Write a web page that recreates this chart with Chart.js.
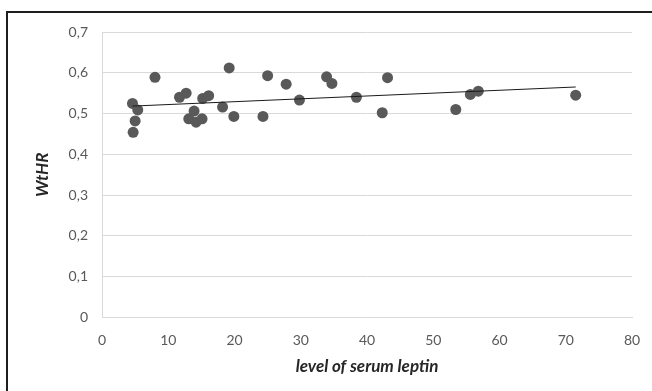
<!DOCTYPE html>
<html>
<head>
<meta charset="utf-8">
<script src="https://cdn.jsdelivr.net/npm/chart.js@4"></script>
<style>
  html, body { margin: 0; padding: 0; background: #fff; overflow: hidden; }
  #wrap { position: relative; width: 652px; height: 391px; }
  #frame { position: absolute; left: 6px; top: 11px; width: 700px; height: 500px; border: 2px solid #1e1e1e; box-sizing: border-box; pointer-events: none; }
</style>
</head>
<body>
<div id="wrap">
  <canvas id="chart" width="652" height="391"></canvas>
  <div id="frame"></div>
</div>
<script>
// leptin level (x) vs WtHR (y)
const leptin = [4.6, 4.7, 5.0, 5.4, 8.0, 11.7, 12.7, 13.1, 13.9, 14.2, 15.1, 15.2, 16.1, 18.2, 19.2,
  19.9, 24.3, 25.0, 27.8, 29.8, 33.9, 34.7, 38.4, 42.3, 43.1, 53.4, 55.6, 56.8, 71.5];
const wthr = [0.525, 0.454, 0.482, 0.509, 0.589, 0.540, 0.550, 0.487, 0.506, 0.479, 0.487, 0.537, 0.544, 0.516, 0.612,
  0.493, 0.493, 0.593, 0.572, 0.533, 0.590, 0.574, 0.540, 0.502, 0.588, 0.510, 0.547, 0.555, 0.545];
const xTicks = [0, 10, 20, 30, 40, 50, 60, 70, 80];
const yTicks = [0, 0.1, 0.2, 0.3, 0.4, 0.5, 0.6, 0.7];

// linear trendline (least squares) like the excel one
function trend(xs, ys) {
  const n = xs.length;
  const mx = xs.reduce((a, b) => a + b, 0) / n;
  const my = ys.reduce((a, b) => a + b, 0) / n;
  let sxy = 0, sxx = 0;
  for (let i = 0; i < n; i++) {
    sxy += (xs[i] - mx) * (ys[i] - my);
    sxx += (xs[i] - mx) * (xs[i] - mx);
  }
  const b = sxy / sxx;
  const a = my - b * mx;
  const x0 = Math.min(...xs), x1 = Math.max(...xs);
  return [{ x: x0, y: a + b * x0 }, { x: x1, y: a + b * x1 }];
}

const points = leptin.map((x, i) => ({ x: x, y: wthr[i] }));
const tickFont = { family: 'Lato, "Open Sans", sans-serif', size: 14 };
const titleFont = { family: 'Lato, "Open Sans", sans-serif', size: 17, weight: 'bold', style: 'italic' };

new Chart(document.getElementById('chart'), {
  type: 'scatter',
  data: {
    datasets: [{
      label: 'WtHR',
      data: points,
      backgroundColor: '#595959',
      borderColor: '#595959',
      pointRadius: 5.5,
      pointHoverRadius: 5.5,
      borderWidth: 0,
      order: 2
    }, {
      type: 'line',
      label: 'trend',
      data: trend(leptin, wthr),
      borderColor: '#1a1a1a',
      borderWidth: 1,
      pointRadius: 0,
      fill: false,
      order: 1
    }]
  },
  options: {
    responsive: false,
    animation: false,
    layout: { padding: { left: 32, top: 32, right: 20, bottom: 14 } },
    plugins: { legend: { display: false }, tooltip: { enabled: false } },
    scales: {
      x: {
        type: 'linear',
        min: 0,
        max: 80,
        afterBuildTicks: (axis) => { axis.ticks = xTicks.map(v => ({ value: v })); },
        afterFit: (axis) => { axis.height = 59.5; axis.paddingLeft = 0; axis.paddingRight = 0; },
        grid: { display: false, drawTicks: false },
        border: { display: true, color: '#d9d9d9' },
        ticks: { color: '#595959', font: tickFont, padding: 15, maxRotation: 0 },
        title: { display: true, text: 'level of serum leptin', color: '#262626', font: titleFont, padding: 0 }
      },
      y: {
        min: 0,
        max: 0.7,
        afterBuildTicks: (axis) => { axis.ticks = yTicks.map(v => ({ value: v })); },
        afterFit: (axis) => { axis.width = 70; axis.paddingTop = 0; axis.paddingBottom = 0; },
        grid: { color: '#d9d9d9', drawTicks: false },
        border: { display: true, color: '#d9d9d9' },
        ticks: {
          color: '#595959',
          font: tickFont,
          padding: 14,
          callback: (v) => v === 0 ? '0' : v.toFixed(1).replace('.', ',')
        },
        title: { display: true, text: 'WtHR', color: '#262626', font: titleFont, padding: 0 }
      }
    }
  }
});
</script>
</body>
</html>
